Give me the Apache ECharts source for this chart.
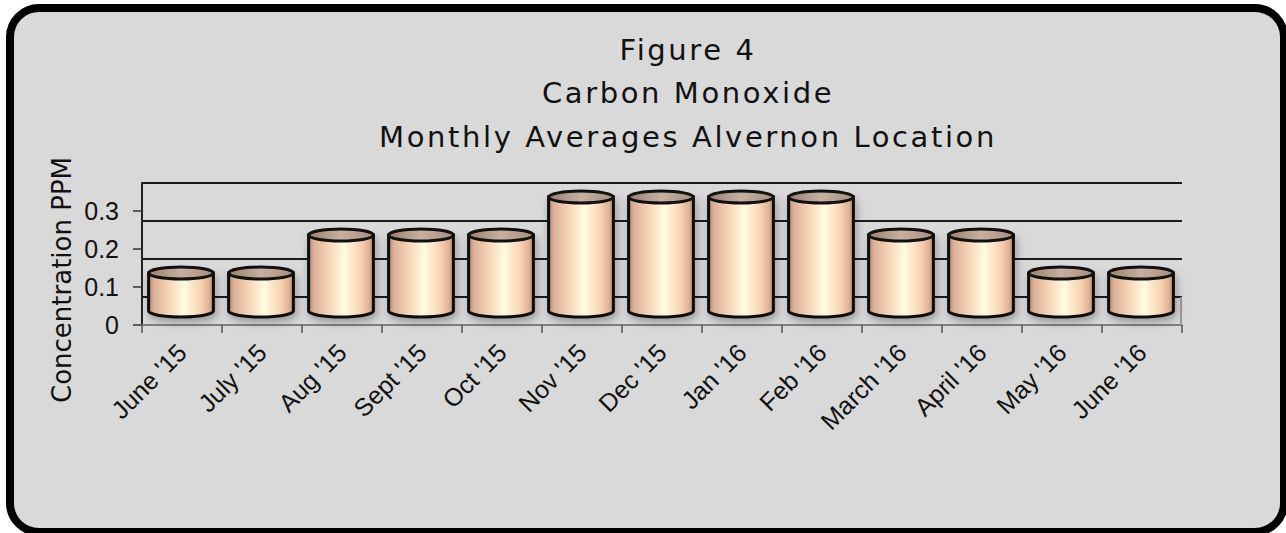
<!DOCTYPE html>
<html>
<head>
<meta charset="utf-8">
<title>Figure 4 - Carbon Monoxide</title>
<script src="https://cdn.jsdelivr.net/npm/echarts@6/dist/echarts.min.js"></script>
<style>
html, body { margin: 0; padding: 0; background: #fff; }
#chart { width: 1286px; height: 533px; }
/* title font is spaced out in the original */
#chart text[style*="Verdana"] { letter-spacing: 2.6px; }
</style>
</head>
<body>
<div id="chart"></div>
<script>
const months = ["June '15", "July '15", "Aug '15", "Sept '15", "Oct '15", "Nov '15", "Dec '15",
  "Jan '16", "Feb '16", "March '16", "April '16", "May '16", "June '16"];
const coPpm = [0.1, 0.1, 0.2, 0.2, 0.2, 0.3, 0.3, 0.3, 0.3, 0.2, 0.2, 0.1, 0.1];
const yTicks = [0, 0.1, 0.2, 0.3];
const titleLines = ['Figure 4', 'Carbon Monoxide', 'Monthly Averages Alvernon Location'];
const yAxisName = 'Concentration PPM';

const chart = echarts.init(document.getElementById('chart'), null, { renderer: 'svg' });

// bars sit half way into the floor depth
const depthX = -1;
const depthY = -14;

const bodyFill = new echarts.graphic.LinearGradient(0, 0, 1, 0, [
  { offset: 0, color: '#a9846e' },
  { offset: 0.08, color: '#dcb297' },
  { offset: 0.3, color: '#f5d2b5' },
  { offset: 0.55, color: '#fffbdf' },
  { offset: 0.8, color: '#f8d3b3' },
  { offset: 0.93, color: '#e0b496' },
  { offset: 1, color: '#b08a74' }
]);
const capFill = new echarts.graphic.LinearGradient(0, 0, 1, 0, [
  { offset: 0, color: '#9a7e6e' },
  { offset: 0.5, color: '#c7b0a0' },
  { offset: 1, color: '#a88c7c' }
]);

function renderCylinder(params, api) {
  const idx = api.value(0);
  const base = api.coord([idx, 0]);
  const top = api.coord([idx, api.value(1)]);
  const rx = api.size([1, 0])[0] * 0.405;
  const ry = 6;
  const cx = base[0] + depthX;
  const yb = base[1] + depthY;
  const yt = top[1] + depthY;
  const l = cx - rx, r = cx + rx;

  const body = 'M' + l + ' ' + yt + ' L' + l + ' ' + yb +
    ' A' + rx + ' ' + ry + ' 0 0 0 ' + r + ' ' + yb +
    ' L' + r + ' ' + yt + ' Z';
  const cap = 'M' + l + ' ' + yt +
    ' A' + rx + ' ' + ry + ' 0 1 0 ' + r + ' ' + yt +
    ' A' + rx + ' ' + ry + ' 0 1 0 ' + l + ' ' + yt + ' Z';

  return {
    type: 'group',
    children: [
      {
        type: 'path',
        shape: { pathData: body },
        style: {
          fill: bodyFill, stroke: '#111', lineWidth: 3,
          shadowBlur: 8, shadowColor: 'rgba(0,0,0,0.3)', shadowOffsetX: 2, shadowOffsetY: 4
        }
      },
      {
        type: 'path',
        shape: { pathData: cap },
        style: { fill: capFill, stroke: '#111', lineWidth: 3 }
      }
    ]
  };
}

const option = {
  backgroundColor: '#fff',
  animation: false,
  title: {
    text: titleLines.join('\n'),
    left: 688,
    top: 28,
    padding: 0,
    textAlign: 'center',
    textStyle: {
      fontFamily: 'DejaVu Sans, Verdana',
      fontSize: 29,
      fontWeight: 'normal',
      color: '#111',
      lineHeight: 43.5
    }
  },
  graphic: [
    {
      type: 'rect',
      z: -10,
      shape: { x: 10, y: 8, width: 1274, height: 524, r: 29 },
      style: { fill: '#d9d9d9', stroke: '#000', lineWidth: 8 }
    },
    {
      type: 'line',
      z: 1,
      shape: { x1: 1181, y1: 297, x2: 1181, y2: 325 },
      style: { stroke: '#9a9a9a', lineWidth: 2 }
    },
    {
      type: 'text',
      x: 62,
      y: 280,
      rotation: Math.PI / 2,
      style: {
        text: yAxisName,
        fontFamily: 'DejaVu Sans',
        fontSize: 26,
        fill: '#111',
        align: 'center',
        verticalAlign: 'middle'
      }
    }
  ],
  grid: [
    // front: axes and bars
    { left: 142, right: 104, top: 183, bottom: 208 },
    // back wall with the gridlines
    { left: 142, right: 104, top: 183, bottom: 236 }
  ],
  xAxis: [
    {
      type: 'category',
      gridIndex: 0,
      data: months,
      boundaryGap: true,
      axisLine: { lineStyle: { color: '#7f7f7f', width: 2 } },
      axisTick: { show: true, length: 8, lineStyle: { color: '#555', width: 1.5 } },
      axisLabel: {
        interval: 0,
        rotate: 45,
        margin: 23,
        fontFamily: 'Liberation Sans',
        fontSize: 25,
        color: '#111'
      }
    },
    {
      type: 'category',
      gridIndex: 1,
      data: months,
      show: false
    }
  ],
  yAxis: [
    {
      type: 'value',
      gridIndex: 0,
      min: 0,
      max: 0.374,
      axisLine: { show: true, lineStyle: { color: '#222', width: 2 } },
      axisTick: { show: true, length: 9, customValues: yTicks, lineStyle: { color: '#333', width: 1.5 } },
      axisLabel: {
        customValues: yTicks,
        margin: 23,
        fontFamily: 'Liberation Sans',
        fontSize: 25,
        color: '#111'
      },
      splitLine: { show: false }
    },
    {
      type: 'value',
      gridIndex: 1,
      min: 0,
      max: 0.3,
      interval: 0.1,
      axisLine: { show: false },
      axisTick: { show: false },
      axisLabel: { show: false },
      splitLine: { show: true, lineStyle: { color: '#1a1a1a', width: 2 } }
    }
  ],
  series: [
    {
      type: 'custom',
      xAxisIndex: 0,
      yAxisIndex: 0,
      clip: false,
      renderItem: renderCylinder,
      encode: { x: 0, y: 1 },
      data: months.map((m, i) => [i, coPpm[i]])
    }
  ]
};

chart.setOption(option);
window.addEventListener('resize', chart.resize);
</script>
</body>
</html>
